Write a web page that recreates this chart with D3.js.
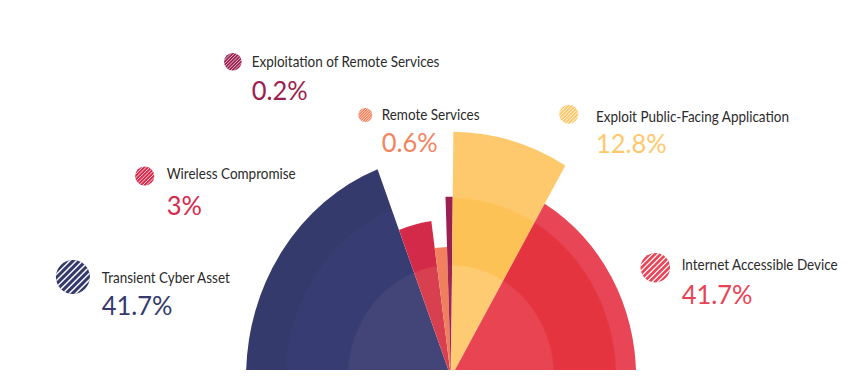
<!DOCTYPE html>
<html>
  <head>
    <title>initial access - semicircle</title>
    <script src="https://d3js.org/d3.v7.min.js"></script>
    <style>
      body { margin: 0; background: #fff; }
      .label { font-family: Lato, "Open Sans", sans-serif; font-size: 13.5px; fill: #2b2b2b; }
      .pct { font-family: Lato, "Open Sans", sans-serif; font-weight: 400; font-size: 25.5px; }
    </style>
  </head>
  <body>
    <div id="vis"></div>
    <script>
      // data
      var categories = ["Transient Cyber Asset", "Wireless Compromise", "Remote Services",
                        "Exploitation of Remote Services", "Exploit Public-Facing Application",
                        "Internet Accessible Device"];
      var shares = [41.7, 3, 0.6, 0.2, 12.8, 41.7];           // printed percentages
      var sliceAngle = [69, 13.2, 5.9, 2.5, 29.8, 59.6];      // angular width of each slice (deg)
      var sliceDepth = [90.7, 64.2, 53.1, 73.5, 100, 81.9];   // slice length, % of longest

      // colours: [outer, middle ring, inner ring]
      var palette = [
        ["#353a6d", "#373d72", "#434579"],
        ["#d62b4b", "#d42a4a", "#d8404f"],
        ["#f4845f", "#f2805e", "#ef7f5f"],
        ["#9b1f50", "#9b1f50", "#a02552"],
        ["#fec96d", "#fdc255", "#fecb72"],
        ["#e84557", "#e3343f", "#e84451"]
      ];
      var textColor = ["#363a6e", "#d7294b", "#f4845f", "#9b1f50", "#fec96c", "#e84354"];

      // where each legend entry sits
      var legendLayout = [
        {cx: 72.9, cy: 277, r: 17, tx: 101.7, ty: 282.7, py: 315},
        {cx: 144.7, cy: 176, r: 9.6, tx: 166.7, ty: 179.3, py: 215},
        {cx: 365.3, cy: 115, r: 7, tx: 381.7, ty: 120, py: 152.3},
        {cx: 232.8, cy: 61.7, r: 8.8, tx: 251.7, ty: 66.7, py: 100},
        {cx: 568.8, cy: 114.3, r: 9.5, tx: 596, ty: 121.7, py: 153.3},
        {cx: 655.3, cy: 267.7, r: 14.7, tx: 681.7, ty: 270, py: 304}
      ];

      var width = 856, height = 389;
      var cx = 451, cy = 377.3, stretch = 1.087, maxR = 226;
      var ring1 = 103 / maxR, ring2 = 165 / maxR;

      var svg = d3.select("#vis").append("svg")
        .attr("width", width)
        .attr("height", height);

      var defs = svg.append("defs");
      defs.append("clipPath").attr("id", "base")
        .append("rect").attr("x", 0).attr("y", 0).attr("width", width).attr("height", 370);

      palette.forEach(function (c, i) {
        var g = defs.append("radialGradient").attr("id", "grad" + i)
          .attr("gradientUnits", "userSpaceOnUse")
          .attr("cx", 0).attr("cy", 0).attr("r", maxR);
        var stops = [[0, c[2]], [ring1 - 0.004, c[2]], [ring1 + 0.004, c[1]],
                     [ring2 - 0.004, c[1]], [ring2 + 0.004, c[0]], [1, c[0]]];
        stops.forEach(function (s) {
          g.append("stop").attr("offset", s[0]).attr("stop-color", s[1]);
        });
      });

      var data = categories.map(function (d, i) {
        return {name: d, share: shares[i], angle: sliceAngle[i], depth: sliceDepth[i], i: i};
      });

      var pie = d3.pie().sort(null)
        .value(function (d) { return d.angle; })
        .startAngle(-Math.PI / 2)
        .endAngle(Math.PI / 2);

      var r = d3.scaleLinear().domain([0, 100]).range([0, maxR]);

      var arc = d3.arc()
        .innerRadius(0)
        .outerRadius(function (d) { return r(d.data.depth); });

      var chart = svg.append("g").attr("clip-path", "url(#base)")
        .append("g")
        .attr("transform", "translate(" + cx + "," + cy + ") scale(1," + stretch + ")");

      chart.selectAll("path")
        .data(pie(data))
        .enter()
        .append("path")
        .attr("d", arc)
        .attr("fill", function (d) { return "url(#grad" + d.data.i + ")"; });

      // legend
      var leg = svg.selectAll(".leg")
        .data(data)
        .enter()
        .append("g")
        .attr("class", "leg");

      leg.each(function (d, i) {
        var L = legendLayout[i];
        var g = d3.select(this);
        defs.append("clipPath").attr("id", "dot" + i)
          .append("circle").attr("cx", L.cx).attr("cy", L.cy).attr("r", L.r);
        g.append("circle")
          .attr("cx", L.cx).attr("cy", L.cy).attr("r", L.r)
          .attr("fill", palette[i][0]);
        var step = L.r * 2 / 7.5;
        var hatch = g.append("g").attr("clip-path", "url(#dot" + i + ")");
        for (var k = -5; k <= 5; k++) {
          var off = k * step * Math.SQRT2;
          hatch.append("line")
            .attr("x1", L.cx - L.r * 1.5 + off).attr("y1", L.cy + L.r * 1.5)
            .attr("x2", L.cx + L.r * 1.5 + off).attr("y2", L.cy - L.r * 1.5)
            .attr("stroke", "#fff")
            .attr("stroke-width", step * 0.32);
        }
        // the whole picture is a little taller than wide, text too
        g.append("text").attr("class", "label")
          .attr("transform", "translate(" + L.tx + "," + L.ty + ") scale(1," + stretch + ")")
          .text(d.name);
        g.append("text").attr("class", "pct")
          .attr("transform", "translate(" + L.tx + "," + L.py + ") scale(1," + stretch + ")")
          .attr("fill", textColor[i])
          .text(d.share + "%");
      });
    </script>
  </body>
</html>
